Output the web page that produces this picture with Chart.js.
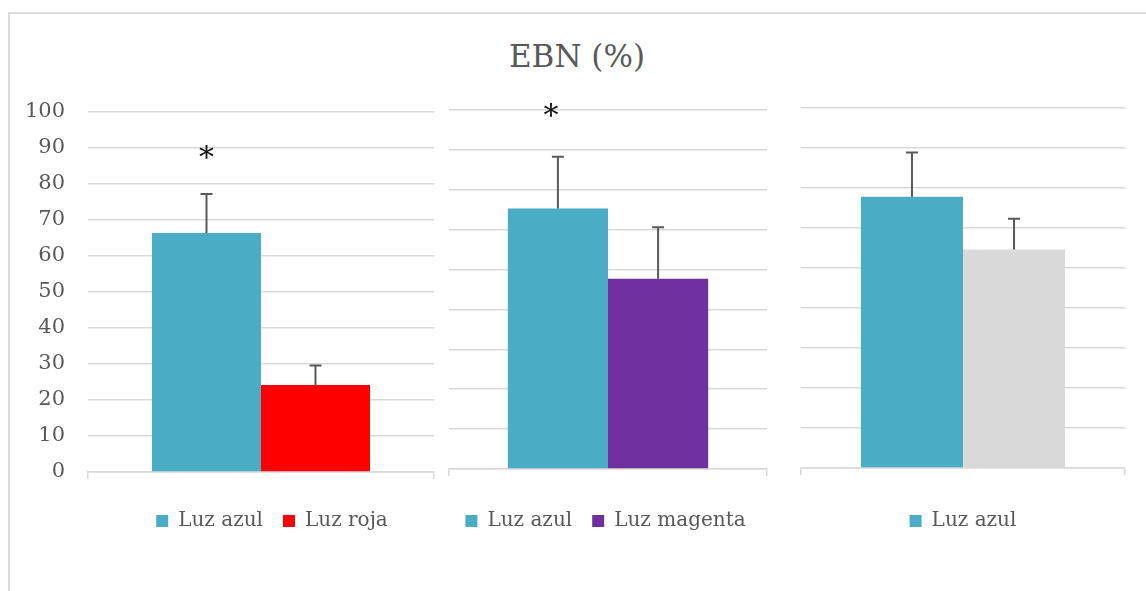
<!DOCTYPE html>
<html lang="es">
<head>
<meta charset="utf-8">
<title>EBN (%)</title>
<script src="https://cdn.jsdelivr.net/npm/chart.js@4.4.1/dist/chart.umd.min.js"></script>
<style>
  html, body { margin: 0; padding: 0; background: #ffffff; }
  body { width: 1146px; height: 591px; position: relative; overflow: hidden; }
  #marco {
    position: absolute; left: 8px; top: 12px; right: -10px; bottom: -10px;
    border-left: 2px solid #dcdcdc; border-top: 2px solid #dcdcdc;
  }
  #titulo {
    position: absolute; left: 0; width: 1154px; top: 38px;
    text-align: center; font-family: 'DejaVu Serif', serif; font-size: 31px;
    line-height: 36px; color: #595959;
  }
  canvas { position: absolute; }
</style>
</head>
<body>
<div id="marco"></div>
<div id="titulo">EBN (%)</div>
<canvas id="panel1" width="445" height="451" style="left:0px;top:90px;width:445px;height:451px"></canvas>
<canvas id="panel2" width="335" height="451" style="left:440px;top:90px;width:335px;height:451px"></canvas>
<canvas id="panel3" width="345" height="451" style="left:790px;top:90px;width:345px;height:451px"></canvas>
<script>
// Una sola categoría por panel; cada serie es una barra
const categorias = [''];

// Panel 1: luz azul frente a luz roja
const series1 = ['Luz azul', 'Luz roja'];
const valores1 = [66.4, 24.2];
const errores1 = [10.8, 5.4];
const marcas1 = [89, null];

// Panel 2: luz azul frente a luz magenta
const series2 = ['Luz azul', 'Luz magenta'];
const valores2 = [65.3, 47.7];
const errores2 = [13.0, 12.9];
const marcas2 = [90, null];

// Panel 3: luz azul frente a la serie sin nombre
const series3 = ['Luz azul', ''];
const valores3 = [67.8, 54.6];
const errores3 = [11.1, 7.7];
const marcas3 = [null, null];

// Escalas del eje Y
const ticks1 = { min: 0, max: 100, paso: 10 };
const ticks23 = { min: 0, max: 90, paso: 10 };

const colores1 = ['#4BACC6', '#FF0000'];
const colores2 = ['#4BACC6', '#7030A0'];
const colores3 = ['#4BACC6', '#D9D9D9'];

const GRIS_TEXTO = '#595959';
const GRIS_REJILLA = '#d9d9d9';

Chart.defaults.font.family = "'DejaVu Serif', serif";
Chart.defaults.color = GRIS_TEXTO;

// Barras de error (solo hacia arriba) con remate horizontal
const barrasError = {
  id: 'barrasError',
  afterDatasetsDraw(chart, args, opts) {
    const ctx = chart.ctx;
    const y = chart.scales.y;
    ctx.save();
    ctx.strokeStyle = opts.color;
    ctx.lineWidth = opts.width;
    chart.data.datasets.forEach((ds, i) => {
      const meta = chart.getDatasetMeta(i);
      meta.data.forEach((bar, j) => {
        const e = ds.errores ? ds.errores[j] : null;
        if (e == null) return;
        const top = y.getPixelForValue(ds.data[j] + e);
        ctx.beginPath();
        ctx.moveTo(bar.x, bar.y);
        ctx.lineTo(bar.x, top);
        ctx.moveTo(bar.x - opts.cap / 2, top);
        ctx.lineTo(bar.x + opts.cap / 2, top);
        ctx.stroke();
      });
    });
    ctx.restore();
  }
};

// Asterisco de significación sobre la barra
const asteriscos = {
  id: 'asteriscos',
  afterDatasetsDraw(chart, args, opts) {
    const ctx = chart.ctx;
    const y = chart.scales.y;
    ctx.save();
    ctx.font = opts.size + "px 'DejaVu Serif', serif";
    ctx.fillStyle = opts.color;
    ctx.textAlign = 'left';
    ctx.textBaseline = 'alphabetic';
    chart.data.datasets.forEach((ds, i) => {
      const meta = chart.getDatasetMeta(i);
      meta.data.forEach((bar, j) => {
        const v = ds.marcas ? ds.marcas[j] : null;
        if (v == null) return;
        const m = ctx.measureText('*');
        const w = m.actualBoundingBoxLeft + m.actualBoundingBoxRight;
        const h = m.actualBoundingBoxAscent + m.actualBoundingBoxDescent;
        const cx = bar.x + (opts.dx || 0);
        const cy = y.getPixelForValue(v);
        ctx.fillText('*', cx - w / 2 + m.actualBoundingBoxLeft, cy + h / 2 - m.actualBoundingBoxDescent);
      });
    });
    ctx.restore();
  }
};

// Desplaza la leyenda horizontalmente
const leyendaDesplazada = {
  id: 'leyendaDesplazada',
  afterLayout(chart, args, opts) {
    if (chart.legend && opts.dx) {
      chart.legend.left += opts.dx;
      chart.legend.right += opts.dx;
    }
  }
};

function crearPanel(id, series, valores, errores, marcas, colores, escala, cfg) {
  const datasets = series.map((nombre, i) => ({
    label: nombre,
    data: [valores[i]],
    errores: [errores[i]],
    marcas: [marcas[i]],
    backgroundColor: colores[i],
    borderWidth: 0,
    categoryPercentage: 0.63,
    barPercentage: 1.0
  }));
  return new Chart(document.getElementById(id), {
    type: 'bar',
    data: { labels: categorias, datasets },
    plugins: [barrasError, asteriscos, leyendaDesplazada],
    options: {
      responsive: false,
      devicePixelRatio: 1,
      animation: false,
      events: [],
      layout: { padding: { top: cfg.padTop, right: cfg.padRight, left: 0, bottom: 0 } },
      scales: {
        x: {
          type: 'category',
          grid: { display: true, drawOnChartArea: false, drawTicks: true, tickLength: 7, color: GRIS_REJILLA, lineWidth: 1.5, offset: true },
          border: { display: true, color: GRIS_REJILLA, width: 1.5 },
          ticks: { display: false },
          afterFit(scale) { scale.height = cfg.ejeX; }
        },
        y: {
          min: escala.min,
          max: escala.max,
          grid: { color: GRIS_REJILLA, lineWidth: 1.5, drawTicks: false },
          border: { display: false },
          ticks: {
            display: cfg.etiquetas,
            stepSize: escala.paso,
            padding: 23,
            color: GRIS_TEXTO,
            font: { size: 21 }
          },
          afterFit(scale) {
            scale.width = cfg.ejeY;
            // las etiquetas caben dentro del margen superior del lienzo
            scale.paddingTop = 0;
            scale.paddingBottom = 0;
          }
        }
      },
      plugins: {
        legend: {
          display: true,
          position: 'bottom',
          fullSize: cfg.leyendaCompleta,
          align: 'center',
          labels: {
            boxWidth: 12,
            boxHeight: 12,
            padding: 20,
            color: GRIS_TEXTO,
            font: { size: 20 },
            filter: item => item.text !== ''
          }
        },
        tooltip: { enabled: false },
        barrasError: { color: '#595959', width: 2, cap: 12 },
        asteriscos: { color: '#111111', size: 30, dx: cfg.dxMarca || 0 },
        leyendaDesplazada: { dx: cfg.dxLeyenda || 0 }
      }
    }
  });
}

crearPanel('panel1', series1, valores1, errores1, marcas1, colores1, ticks1,
  { padTop: 22, padRight: 11, ejeX: 19, ejeY: 88, etiquetas: true, leyendaCompleta: false, dxLeyenda: 11 });
crearPanel('panel2', series2, valores2, errores2, marcas2, colores2, ticks23,
  { padTop: 20, padRight: 8, ejeX: 22, ejeY: 9, etiquetas: false, leyendaCompleta: true, dxLeyenda: 2, dxMarca: -7 });
crearPanel('panel3', series3, valores3, errores3, marcas3, colores3, ticks23,
  { padTop: 18, padRight: 10, ejeX: 23, ejeY: 11, etiquetas: false, leyendaCompleta: false });
</script>
</body>
</html>
